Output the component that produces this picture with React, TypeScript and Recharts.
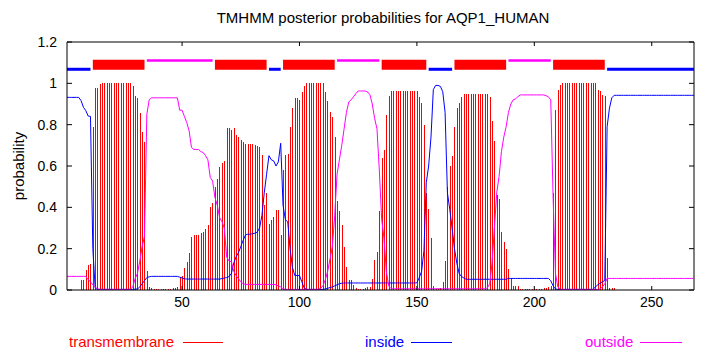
import React from 'react';
import {
  ComposedChart,
  Bar,
  Line,
  XAxis,
  YAxis,
  ReferenceArea,
  ReferenceLine,
} from 'recharts';

// posterior probabilities per residue (1..268)
const tmProb = [
  0, 0, 0, 0, 0, 0, 0.048, 0.048, 0.097, 0.12, // 1-10
  0.126, 0.79, 0.976, 0.976, 0.997, 1, 1, 1, 1, 1, // 11-20
  1, 1, 1, 1, 1, 1, 1, 1, 0.987, 0.94, // 21-30
  0.927, 0.858, 0.766, 0.718, 0.09, 0.016, 0.008, 0.005, 0.005, 0.005, // 31-40
  0.005, 0.005, 0.005, 0.005, 0.005, 0.008, 0.008, 0.013, 0.065, 0.068, // 41-50
  0.105, 0.137, 0.177, 0.258, 0.266, 0.266, 0.268, 0.277, 0.282, 0.295, // 51-60
  0.315, 0.403, 0.42, 0.5, 0.535, 0.597, 0.613, 0.624, 0.782, 0.782, // 61-70
  0.774, 0.782, 0.75, 0.742, 0.726, 0.718, 0.706, 0.706, 0.706, 0.706, // 71-80
  0.7, 0.697, 0.69, 0.653, 0.41, 0.468, 0.32, 0.34, 0.355, 0.387, // 81-90
  0.387, 0.266, 0.58, 0.653, 0.66, 0.79, 0.88, 0.927, 0.927, 0.92, // 91-100
  0.96, 0.987, 1, 1, 1, 1, 1, 1, 1, 1, // 101-110
  0.96, 0.915, 0.863, 0.835, 0.74, 0.43, 0.38, 0.315, 0.21, 0.113, // 111-120
  0.048, 0.048, 0.024, 0.008, 0.003, 0.003, 0.003, 0.008, 0.013, 0.013, // 121-130
  0.052, 0.145, 0.185, 0.384, 0.637, 0.677, 0.847, 0.939, 0.963, 0.963, // 131-140
  0.963, 0.963, 0.963, 0.963, 0.963, 0.963, 0.963, 0.963, 0.963, 0.963, // 141-150
  0.935, 0.906, 0.8, 0.468, 0.39, 0.25, 0.02, 0.005, 0.005, 0.01, // 151-160
  0.04, 0.14, 0.5, 0.6, 0.65, 0.79, 0.88, 0.906, 0.935, 0.948, // 161-170
  0.948, 0.948, 0.948, 0.948, 0.948, 0.948, 0.948, 0.948, 0.948, 0.948, // 171-180
  0.935, 0.82, 0.72, 0.46, 0.44, 0.28, 0.23, 0.2, 0.1, 0.056, // 181-190
  0.02, 0.02, 0.02, 0.004, 0.004, 0.004, 0.004, 0.004, 0.004, 0.004, // 191-200
  0.004, 0.004, 0.004, 0.008, 0.01, 0.015, 0.02, 0.47, 0.87, 0.97, // 201-210
  0.99, 1, 1, 1, 1, 1, 1, 1, 1, 1, // 211-220
  1, 1, 1, 1, 1, 1, 0.97, 0.963, 0.944, 0.94, // 221-230
  0.153, 0.01, 0.01, 0.008, 0, 0, 0, 0, 0, 0, // 231-240
  0, 0, 0, 0, 0, 0, 0, 0, 0, 0, // 241-250
  0, 0, 0, 0, 0, 0, 0, 0, 0, 0, // 251-260
  0, 0, 0, 0, 0, 0, 0, 0, // 261-268
];

const insideProb = [
  0.932, 0.932, 0.932, 0.932, 0.932, 0.932, 0.916, 0.884, 0.868, 0.842, // 1-10
  0.84, 0.2, 0.01, 0.003, 0.003, 0.003, 0.003, 0.003, 0.003, 0.003, // 11-20
  0.003, 0.003, 0.003, 0.003, 0.003, 0.003, 0.003, 0.003, 0.003, 0.004, // 21-30
  0.005, 0.015, 0.03, 0.045, 0.06, 0.064, 0.066, 0.066, 0.066, 0.066, // 31-40
  0.066, 0.066, 0.066, 0.066, 0.066, 0.066, 0.066, 0.066, 0.062, 0.058, // 41-50
  0.054, 0.053, 0.053, 0.053, 0.053, 0.053, 0.053, 0.053, 0.053, 0.053, // 51-60
  0.053, 0.053, 0.053, 0.053, 0.053, 0.053, 0.055, 0.058, 0.06, 0.065, // 61-70
  0.08, 0.13, 0.16, 0.18, 0.21, 0.24, 0.266, 0.27, 0.27, 0.272, // 71-80
  0.275, 0.28, 0.3, 0.36, 0.47, 0.56, 0.65, 0.63, 0.625, 0.6, // 81-90
  0.62, 0.71, 0.41, 0.34, 0.33, 0.2, 0.11, 0.07, 0.07, 0.07, // 91-100
  0.04, 0.01, 0.003, 0.003, 0.003, 0.003, 0.003, 0.003, 0.003, 0.003, // 101-110
  0.005, 0.008, 0.012, 0.015, 0.02, 0.025, 0.03, 0.033, 0.034, 0.034, // 111-120
  0.034, 0.034, 0.034, 0.034, 0.034, 0.034, 0.034, 0.034, 0.034, 0.034, // 121-130
  0.034, 0.034, 0.034, 0.034, 0.034, 0.034, 0.034, 0.034, 0.034, 0.034, // 131-140
  0.034, 0.034, 0.034, 0.034, 0.034, 0.034, 0.034, 0.034, 0.034, 0.035, // 141-150
  0.06, 0.09, 0.19, 0.52, 0.6, 0.74, 0.97, 0.99, 0.99, 0.985, // 151-160
  0.96, 0.86, 0.47, 0.39, 0.3, 0.2, 0.13, 0.08, 0.065, 0.058, // 161-170
  0.052, 0.052, 0.052, 0.052, 0.052, 0.052, 0.052, 0.052, 0.052, 0.052, // 171-180
  0.052, 0.052, 0.052, 0.052, 0.052, 0.052, 0.052, 0.052, 0.056, 0.056, // 181-190
  0.056, 0.056, 0.056, 0.056, 0.056, 0.056, 0.056, 0.056, 0.056, 0.056, // 191-200
  0.056, 0.056, 0.056, 0.056, 0.056, 0.056, 0.045, 0.02, 0.005, 0.003, // 201-210
  0.003, 0.003, 0.003, 0.003, 0.003, 0.003, 0.003, 0.003, 0.003, 0.003, // 211-220
  0.003, 0.003, 0.003, 0.003, 0.003, 0.015, 0.025, 0.032, 0.04, 0.045, // 221-230
  0.79, 0.88, 0.93, 0.942, 0.942, 0.942, 0.942, 0.942, 0.942, 0.942, // 231-240
  0.942, 0.942, 0.942, 0.942, 0.942, 0.942, 0.942, 0.942, 0.942, 0.942, // 241-250
  0.942, 0.942, 0.942, 0.942, 0.942, 0.942, 0.942, 0.942, 0.942, 0.942, // 251-260
  0.942, 0.942, 0.942, 0.942, 0.942, 0.942, 0.942, 0.942, // 261-268
];

const outsideProb = [
  0.066, 0.066, 0.066, 0.066, 0.066, 0.066, 0.066, 0.066, 0.066, 0.05, // 1-10
  0.04, 0.025, 0.015, 0.005, 0.003, 0.003, 0.003, 0.003, 0.003, 0.003, // 11-20
  0.003, 0.003, 0.003, 0.003, 0.003, 0.003, 0.003, 0.003, 0.015, 0.055, // 21-30
  0.08, 0.14, 0.21, 0.26, 0.85, 0.92, 0.93, 0.93, 0.93, 0.93, // 31-40
  0.93, 0.93, 0.93, 0.93, 0.93, 0.93, 0.93, 0.93, 0.87, 0.87, // 41-50
  0.84, 0.81, 0.77, 0.69, 0.68, 0.68, 0.68, 0.67, 0.665, 0.65, // 51-60
  0.63, 0.545, 0.527, 0.447, 0.41, 0.35, 0.33, 0.3, 0.16, 0.14, // 61-70
  0.137, 0.09, 0.07, 0.055, 0.04, 0.03, 0.027, 0.027, 0.027, 0.027, // 71-80
  0.027, 0.027, 0.027, 0.027, 0.027, 0.027, 0.027, 0.027, 0.027, 0.025, // 81-90
  0.02, 0.015, 0.006, 0.003, 0.003, 0.003, 0.003, 0.003, 0.003, 0.003, // 91-100
  0.003, 0.003, 0.003, 0.003, 0.003, 0.003, 0.003, 0.003, 0.008, 0.02, // 101-110
  0.05, 0.09, 0.15, 0.21, 0.36, 0.56, 0.63, 0.7, 0.78, 0.86, // 111-120
  0.91, 0.92, 0.935, 0.95, 0.963, 0.963, 0.963, 0.963, 0.958, 0.945, // 121-130
  0.9, 0.83, 0.78, 0.58, 0.34, 0.25, 0.09, 0.02, 0.006, 0.006, // 131-140
  0.006, 0.006, 0.006, 0.006, 0.006, 0.006, 0.006, 0.006, 0.006, 0.006, // 141-150
  0.006, 0.006, 0.006, 0.006, 0.006, 0.006, 0.006, 0.006, 0.006, 0.006, // 151-160
  0.006, 0.006, 0.006, 0.006, 0.006, 0.006, 0.006, 0.006, 0.006, 0.006, // 161-170
  0.006, 0.006, 0.006, 0.006, 0.006, 0.006, 0.006, 0.006, 0.006, 0.01, // 171-180
  0.03, 0.13, 0.3, 0.47, 0.55, 0.67, 0.74, 0.79, 0.86, 0.9, // 181-190
  0.92, 0.925, 0.935, 0.944, 0.944, 0.944, 0.944, 0.944, 0.944, 0.944, // 191-200
  0.944, 0.944, 0.944, 0.944, 0.94, 0.935, 0.92, 0.45, 0.08, 0.015, // 201-210
  0.003, 0.003, 0.003, 0.003, 0.003, 0.003, 0.003, 0.003, 0.003, 0.003, // 211-220
  0.003, 0.003, 0.003, 0.003, 0.003, 0.003, 0.003, 0.005, 0.015, 0.03, // 221-230
  0.056, 0.056, 0.056, 0.056, 0.056, 0.056, 0.056, 0.056, 0.056, 0.056, // 231-240
  0.056, 0.056, 0.056, 0.056, 0.056, 0.056, 0.056, 0.056, 0.056, 0.056, // 241-250
  0.056, 0.056, 0.056, 0.056, 0.056, 0.056, 0.056, 0.056, 0.056, 0.056, // 251-260
  0.056, 0.056, 0.056, 0.056, 0.056, 0.056, 0.056, 0.056, // 261-268
];

// predicted topology drawn above the curves
const topoStart = [1, 12, 35, 64, 87, 93, 116, 135, 155, 166, 189, 208, 231];
const topoEnd = [11, 34, 63, 86, 92, 115, 134, 154, 165, 188, 207, 230, 268];
const topoKind = ['inside', 'TM', 'outside', 'TM', 'inside', 'TM', 'outside', 'TM', 'inside', 'TM', 'outside', 'TM', 'inside'];

const xTicks = [50, 100, 150, 200, 250];
const yTicks = [0, 0.2, 0.4, 0.6, 0.8, 1, 1.2];

const RED = '#ff0000';
const BLUE = '#0000ff';
const MAGENTA = '#ff00ff';
const FONT = '"Liberation Sans", Arial, sans-serif';

// plot box (page coords), used only for the inward tick marks
const PLOT_LEFT = 67;
const PLOT_RIGHT = 694;
const PLOT_TOP = 42;
const PLOT_BOTTOM = 290;

const data = tmProb.map((v, i) => ({
  pos: i + 1,
  tm: v,
  inside: insideProb[i],
  outside: outsideProb[i],
}));

const XTick = (props: any) => {
  const { x, y, payload } = props;
  return (
    <g>
      <line x1={x} x2={x} y1={PLOT_BOTTOM} y2={PLOT_BOTTOM - 4} stroke="#000" />
      <line x1={x} x2={x} y1={PLOT_TOP} y2={PLOT_TOP + 4} stroke="#000" />
      <text x={x} y={y} textAnchor="middle" dominantBaseline="central" fontSize={14} fontFamily={FONT} fill="#000">
        {payload.value}
      </text>
    </g>
  );
};

const YTick = (props: any) => {
  const { x, y, payload } = props;
  return (
    <g>
      <line x1={PLOT_LEFT} x2={PLOT_LEFT + 5} y1={y} y2={y} stroke="#000" />
      <line x1={PLOT_RIGHT} x2={PLOT_RIGHT - 5} y1={y} y2={y} stroke="#000" />
      <text x={x} y={y} textAnchor="end" dominantBaseline="central" fontSize={14} fontFamily={FONT} fill="#000">
        {payload.value}
      </text>
    </g>
  );
};

const Impulse = (props: any) => {
  const { x, y, width, height } = props;
  if (!height || height <= 0) return null;
  return <rect x={x} y={y} width={width} height={height} fill={RED} shapeRendering="crispEdges" />;
};

const legendItems = [
  { label: 'transmembrane', color: RED, textX: 69, lineX: 183, lineW: 40 },
  { label: 'inside', color: BLUE, textX: 365, lineX: 411, lineW: 41 },
  { label: 'outside', color: MAGENTA, textX: 585, lineX: 640, lineW: 42 },
];

const App = () => {
  return (
    <div style={{ position: 'absolute', left: 0, top: 0, width: 710, height: 350, background: '#fff', fontFamily: FONT }}>
      <div style={{ position: 'absolute', left: 0, width: 710, top: 9, textAlign: 'center', fontSize: 15, lineHeight: '18px', paddingLeft: 56, boxSizing: 'border-box' }}>
        TMHMM posterior probabilities for AQP1_HUMAN
      </div>
      <div
        style={{
          position: 'absolute',
          left: 18.5,
          top: 166,
          transform: 'translate(-50%, -50%) rotate(-90deg)',
          fontSize: 15,
          lineHeight: '18px',
          whiteSpace: 'nowrap',
        }}
      >
        probability
      </div>

      <ComposedChart width={710} height={350} data={data} margin={{ top: 42, right: 16, left: 17, bottom: 30 }}>
        <XAxis
          dataKey="pos"
          type="number"
          domain={[1, 268]}
          allowDataOverflow
          ticks={xTicks}
          tickSize={0}
          tickMargin={12}
          tick={<XTick />}
          height={30}
          axisLine={{ stroke: '#000' }}
        />
        <YAxis
          type="number"
          domain={[0, 1.2]}
          allowDataOverflow
          ticks={yTicks}
          tickSize={0}
          tickMargin={10}
          tick={<YTick />}
          width={50}
          axisLine={{ stroke: '#000' }}
        />
        <ReferenceLine y={1.2} stroke="#000" />
        <ReferenceLine x={268} stroke="#000" />

        {topoKind.map((kind, i) =>
          kind === 'TM' ? (
            <ReferenceArea
              key={'t' + i}
              x1={topoStart[i]}
              x2={topoEnd[i]}
              y1={1.066}
              y2={1.114}
              fill={RED}
              fillOpacity={1}
              stroke="none"
            />
          ) : (
            <ReferenceLine
              key={'t' + i}
              segment={[
                { x: topoStart[i], y: kind === 'inside' ? 1.068 : 1.11 },
                { x: topoEnd[i], y: kind === 'inside' ? 1.068 : 1.11 },
              ]}
              stroke={kind === 'inside' ? BLUE : MAGENTA}
              strokeWidth={kind === 'inside' ? 3 : 2.5}
            />
          )
        )}

        <Bar dataKey="tm" barSize={1} fill={RED} shape={<Impulse />} isAnimationActive={false} />
        <Line type="linear" dataKey="inside" stroke={BLUE} strokeWidth={1} dot={false} isAnimationActive={false} />
        <Line type="linear" dataKey="outside" stroke={MAGENTA} strokeWidth={1} dot={false} isAnimationActive={false} />
      </ComposedChart>

      {legendItems.map((item) => (
        <React.Fragment key={item.label}>
          <div style={{ position: 'absolute', left: item.textX, top: 333, fontSize: 15, lineHeight: '18px', color: item.color }}>
            {item.label}
          </div>
          <div style={{ position: 'absolute', left: item.lineX, top: 342, width: item.lineW, height: 1, background: item.color }} />
        </React.Fragment>
      ))}
    </div>
  );
};

export default App;
